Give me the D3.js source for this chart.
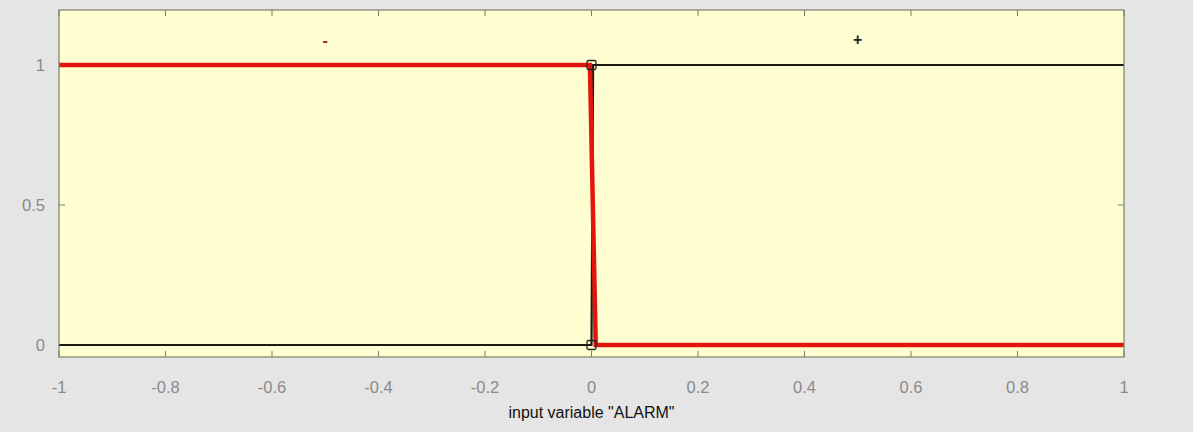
<!DOCTYPE html>
<html><head><meta charset="utf-8">
<script src="https://cdn.jsdelivr.net/npm/d3@7"></script>
<style>body{margin:0;background:#e5e5e5;}svg{display:block;font-family:"Liberation Sans",Arial,sans-serif;}</style>
</head><body>
<svg id="c" width="1193" height="432"></svg>
<script>
const xTicks = [-1,-0.8,-0.6,-0.4,-0.2,0,0.2,0.4,0.6,0.8,1];
const yTicks = [0,0.5,1];
const mfNames = ["-", "+"];
const mfCenters = [-0.5, 0.5];
const mfMinusX = [-1, -0.003, 0.008, 1];
const mfMinusY = [1, 1, 0, 0];
const mfPlusX = [-1, 0, 0.003, 1];
const mfPlusY = [0, 0, 1, 1];
const markerX = [0, 0];
const markerY = [0, 1];
const xLabel = 'input variable "ALARM"';

const svg = d3.select("#c");
const L=59,R=1124,T=10,B=357;
const x = d3.scaleLinear().domain([-1,1]).range([L,R]);
const y = d3.scaleLinear().domain([-12/280, 335/280]).range([B,T]);

svg.append("rect").attr("x",L).attr("y",T).attr("width",R-L).attr("height",B-T).attr("fill","#fffed0");

const axCol="#7d7d6a";
const tl=6;
const fmt = t => String(t);
xTicks.forEach(t=>{
  svg.append("line").attr("x1",x(t)).attr("x2",x(t)).attr("y1",B).attr("y2",B-tl).attr("stroke",axCol);
  svg.append("line").attr("x1",x(t)).attr("x2",x(t)).attr("y1",T).attr("y2",T+tl).attr("stroke",axCol);
  svg.append("text").attr("x",x(t)).attr("y",393).attr("text-anchor","middle").attr("font-size",16.5).attr("fill","#8a8a8a").text(fmt(t));
});
yTicks.forEach(t=>{
  svg.append("line").attr("x1",L).attr("x2",L+tl).attr("y1",y(t)).attr("y2",y(t)).attr("stroke",axCol);
  svg.append("line").attr("x1",R).attr("x2",R-tl).attr("y1",y(t)).attr("y2",y(t)).attr("stroke",axCol);
  svg.append("text").attr("x",45).attr("y",y(t)+6).attr("text-anchor","end").attr("font-size",16.5).attr("fill","#8a8a8a").text(fmt(t));
});

const line = d3.line().x(d=>x(d[0])).y(d=>y(d[1]));
svg.append("path").datum(mfPlusX.map((v,i)=>[v,mfPlusY[i]])).attr("d",line).attr("fill","none").attr("stroke","#1a1a10").attr("stroke-width",2.2);
svg.append("path").datum(mfMinusX.map((v,i)=>[v,mfMinusY[i]])).attr("d",line).attr("fill","none").attr("stroke","#e3160f").attr("stroke-width",4.5);

markerX.forEach((v,i)=>{
  svg.append("rect").attr("x",x(v)-4.5).attr("y",y(markerY[i])-4.5).attr("width",9).attr("height",9).attr("rx",1.5)
    .attr("fill","none").attr("stroke","#222").attr("stroke-width",1.3);
});

svg.append("rect").attr("x",L).attr("y",T).attr("width",R-L).attr("height",B-T).attr("fill","none").attr("stroke",axCol).attr("stroke-width",1.2);

svg.append("text").attr("x",x(mfCenters[0])).attr("y",46).attr("text-anchor","middle").attr("font-size",16).attr("font-weight","bold").attr("fill","#a0301a").text(mfNames[0]);
svg.append("text").attr("x",x(mfCenters[1])).attr("y",45).attr("text-anchor","middle").attr("font-size",16).attr("font-weight","bold").attr("fill","#222").text(mfNames[1]);

svg.append("text").attr("x",x(0)).attr("y",418).attr("text-anchor","middle").attr("font-size",16).attr("fill","#111").text(xLabel);
</script>
</body></html>
